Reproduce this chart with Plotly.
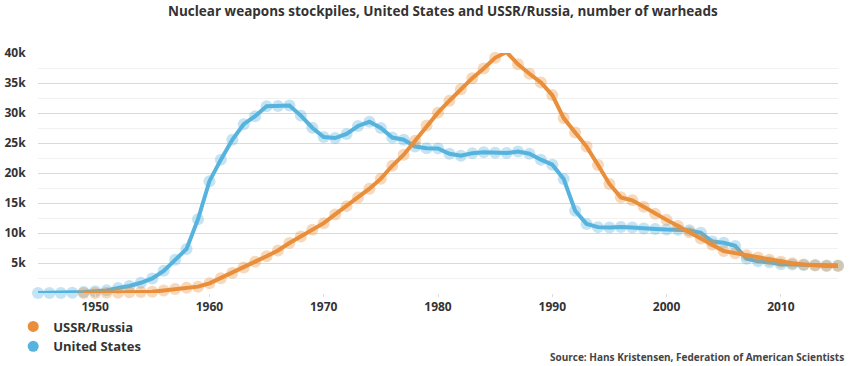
import plotly.graph_objects as go

years_us = list(range(1945, 2016))
us = [2, 9, 13, 50, 170, 299, 438, 841, 1169, 1703, 2422, 3692, 5543, 7345, 12298,
      18638, 22229, 25540, 28133, 29463, 31139, 31175, 31255, 29561, 27552, 26008,
      25830, 26516, 27835, 28537, 27519, 25914, 25542, 24418, 24138, 24104, 23208,
      22886, 23305, 23459, 23368, 23317, 23575, 23205, 22217, 21392, 19008, 13708,
      11511, 10979, 10904, 11011, 10903, 10732, 10685, 10577, 10526, 10457, 10027,
      8570, 8360, 7853, 5709, 5273, 5113, 4809, 4760, 4685, 4650, 4600, 4571]

years_ru = list(range(1949, 2016))
ru = [1, 5, 25, 50, 120, 150, 200, 426, 660, 869, 1060, 1605, 2471, 3322, 4238,
      5221, 6129, 7089, 8339, 9399, 10538, 11643, 13092, 14478, 15915, 17385, 19055,
      21205, 23044, 25393, 27935, 30062, 32049, 33952, 35804, 37431, 39197, 40159,
      38107, 36538, 35078, 32980, 29154, 26734, 24403, 21339, 18179, 15942, 15442,
      14368, 13188, 12188, 11152, 10114, 9076, 8038, 7000, 6643, 6286, 5929, 5527,
      5215, 4950, 4740, 4600, 4500, 4500]

y_tickvals = [5000, 10000, 15000, 20000, 25000, 30000, 35000, 40000]
y_ticktext = ["5k", "10k", "15k", "20k", "25k", "30k", "35k", "40k"]
x_tickvals = [1950, 1960, 1970, 1980, 1990, 2000, 2010]

BLUE = "#55b3de"
ORANGE = "#e98e3a"
FONT = "Open Sans"
TXT = "#333333"

fig = go.Figure()

def add_series(x, y, color, name):
    fig.add_trace(go.Scatter(x=x, y=y, mode="markers", name=name, showlegend=False,
                             marker=dict(size=12, color=color, opacity=0.35),
                             cliponaxis=False, hoverinfo="skip"))
    fig.add_trace(go.Scatter(x=x, y=y, mode="lines", name=name, showlegend=False,
                             line=dict(color=color, width=4), cliponaxis=False))

add_series(years_us, us, BLUE, "United States")
add_series(years_ru, ru, ORANGE, "USSR/Russia")

# legend entries
fig.add_trace(go.Scatter(x=[None], y=[None], mode="markers", name="USSR/Russia",
                         marker=dict(size=11, color=ORANGE)))
fig.add_trace(go.Scatter(x=[None], y=[None], mode="markers", name="United States",
                         marker=dict(size=11, color=BLUE)))

fig.update_layout(
    width=850, height=366,
    margin=dict(l=38, r=12, t=53, b=73, autoexpand=False),
    paper_bgcolor="white", plot_bgcolor="white",
    font=dict(family=FONT, color=TXT, size=12),
    title=dict(text="Nuclear weapons stockpiles, United States and USSR/Russia, number of warheads",
               x=0.521, xanchor="center", y=0.97, yanchor="middle",
               font=dict(family=FONT, size=13.5, color=TXT, weight="bold")),
    showlegend=True,
    legend=dict(x=-0.031, xanchor="left", y=-0.077, yanchor="top",
                font=dict(family=FONT, size=13, color=TXT, weight="bold"),
                bgcolor="rgba(0,0,0,0)", tracegroupgap=0),
    xaxis=dict(range=[1945, 2015], tickvals=x_tickvals, showgrid=False, zeroline=False,
               ticks="outside", ticklen=3, tickcolor="#dddddd", tickwidth=1,
               showline=False, fixedrange=True, automargin=False,
               tickfont=dict(family=FONT, size=12, color=TXT, weight="bold")),
    yaxis=dict(range=[0, 40000], tickvals=y_tickvals, ticktext=y_ticktext,
               showgrid=True, gridcolor="#dcd9d3", gridwidth=1, zeroline=False,
               minor=dict(dtick=2500, tick0=0, showgrid=True, gridcolor="#f1f1f1", gridwidth=1),
               ticks="outside", ticklen=9, tickcolor="rgba(0,0,0,0)",
               showline=False, fixedrange=True, automargin=False,
               tickfont=dict(family=FONT, size=12, color=TXT, weight="bold")),
    annotations=[dict(text="Source: Hans Kristensen, Federation of American Scientists",
                      xref="paper", yref="paper", x=1.01, y=-0.267, xanchor="right", yanchor="middle",
                      showarrow=False,
                      font=dict(family=FONT, size=10, color="#444444", weight="bold"))],
)

fig.write_html("out.html", config={"displayModeBar": False},
               post_script="document.body.style.margin='0';document.body.style.padding='0';")
